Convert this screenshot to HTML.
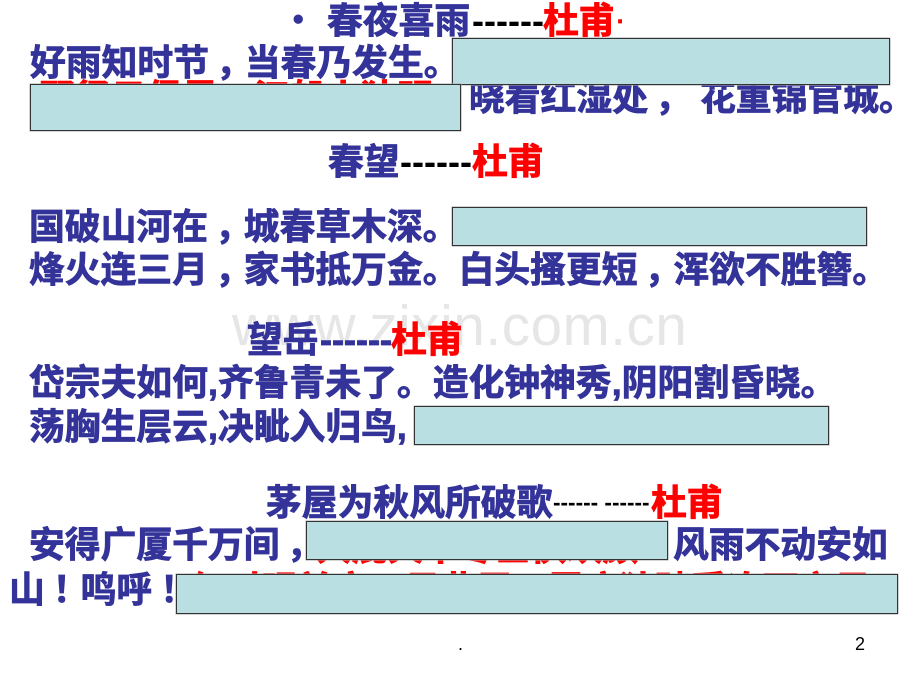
<!DOCTYPE html>
<html><head><meta charset="utf-8">
<style>
html,body{margin:0;padding:0;background:#fff}
#p{position:relative;width:920px;height:690px;overflow:hidden;background:#fff}
.t{position:absolute;white-space:pre;font-family:"Liberation Sans","Noto Sans CJK SC",sans-serif;font-weight:700;font-size:35.8px;line-height:50px;height:50px;color:#333399;-webkit-text-stroke:.8px #333399}
.t i{font-style:normal;position:relative;left:7px}
.t i.x{left:8px}
.r{color:#ff0000;-webkit-text-stroke:.8px #ff0000}
.k{color:#000;-webkit-text-stroke:0}
.b{position:absolute;box-sizing:border-box;background:#b9dfe2;border:1px solid #333;box-shadow:0 0 0 .5px #aaa}
.w{position:absolute;left:232px;top:294px;font:400 56.5px/64px "Liberation Sans",sans-serif;color:#e6e6e6;white-space:pre;letter-spacing:.6px}
.s{position:absolute;font:400 18px/22px "Liberation Sans",sans-serif;color:#000}
</style></head><body><div id="p">
<div class="w">www.zixin.com.cn</div>

<div class="t" style="left:293px;top:-5px;font-size:30px">•</div>
<div class="t" style="left:327px;top:-4px">春夜喜雨</div>
<div class="t k" style="left:472px;top:-4px;font-size:36px">------</div>
<div class="t r" style="left:543px;top:-4px">杜甫</div>
<div class="t r" style="left:617px;top:-3px;font-size:22px">·</div>

<div class="t" style="left:30px;top:38px">好雨知时节<i>，</i>当春乃发生。</div>
<div class="t r" style="left:39px;top:73px">野径云俱黑<i>，</i>江船火独明。</div>
<div class="t" style="left:469px;top:73px">晓看红湿处<i>，</i></div>
<div class="t" style="left:700px;top:73px">花重锦官城。</div>

<div class="t" style="left:328px;top:137px">春望</div>
<div class="t k" style="left:400px;top:137px;font-size:36px">------</div>
<div class="t r" style="left:472px;top:137px">杜甫</div>

<div class="t" style="left:29px;top:202px">国破山河在<i>，</i>城春草木深。</div>
<div class="t" style="left:29px;top:245px">烽火连三月<i>，</i>家书抵万金。白头搔更短<i>，</i>浑欲不胜簪。</div>

<div class="t" style="left:247px;top:315px">望岳</div>
<div class="t" style="left:320px;top:315px;font-size:36px">------</div>
<div class="t r" style="left:391px;top:315px">杜甫</div>

<div class="t" style="left:29px;top:358px">岱宗夫如何,齐鲁青未了。造化钟神秀,阴阳割昏晓。</div>
<div class="t" style="left:29px;top:402px">荡胸生层云,决眦入归鸟,</div>

<div class="t" style="left:266px;top:478px">茅屋为秋风所破歌</div>
<div class="t k" style="left:553px;top:478px;font-size:22.6px">------ ------</div>
<div class="t r" style="left:651px;top:478px">杜甫</div>

<div class="t" style="left:29px;top:520px">安得广厦千万间<i>，</i></div>
<div class="t r" style="left:316px;top:523px">大庇天下寒士俱欢颜</div>
<div class="t" style="left:673px;top:520px">风雨不动安如</div>
<div class="t" style="left:9px;top:565px">山<i class="x">！</i>鸣呼<i class="x">！</i></div>
<div class="t r" style="left:190px;top:565px">何时眼前突兀见此屋<i>，</i>吾庐独破受冻死亦足<i class="x">！</i></div>

<div class="b" style="left:452px;top:38px;width:438px;height:47px"></div>
<div class="b" style="left:30px;top:84px;width:431px;height:47px"></div>
<div class="b" style="left:452px;top:207px;width:415px;height:39px"></div>
<div class="b" style="left:414px;top:406px;width:415px;height:39px"></div>
<div class="b" style="left:306px;top:521px;width:362px;height:39px"></div>
<div class="b" style="left:176px;top:574px;width:722px;height:40px"></div>

<div class="s" style="left:855px;top:633px">2</div>
<div class="s" style="left:458px;top:633px">.</div>
</div></body></html>
